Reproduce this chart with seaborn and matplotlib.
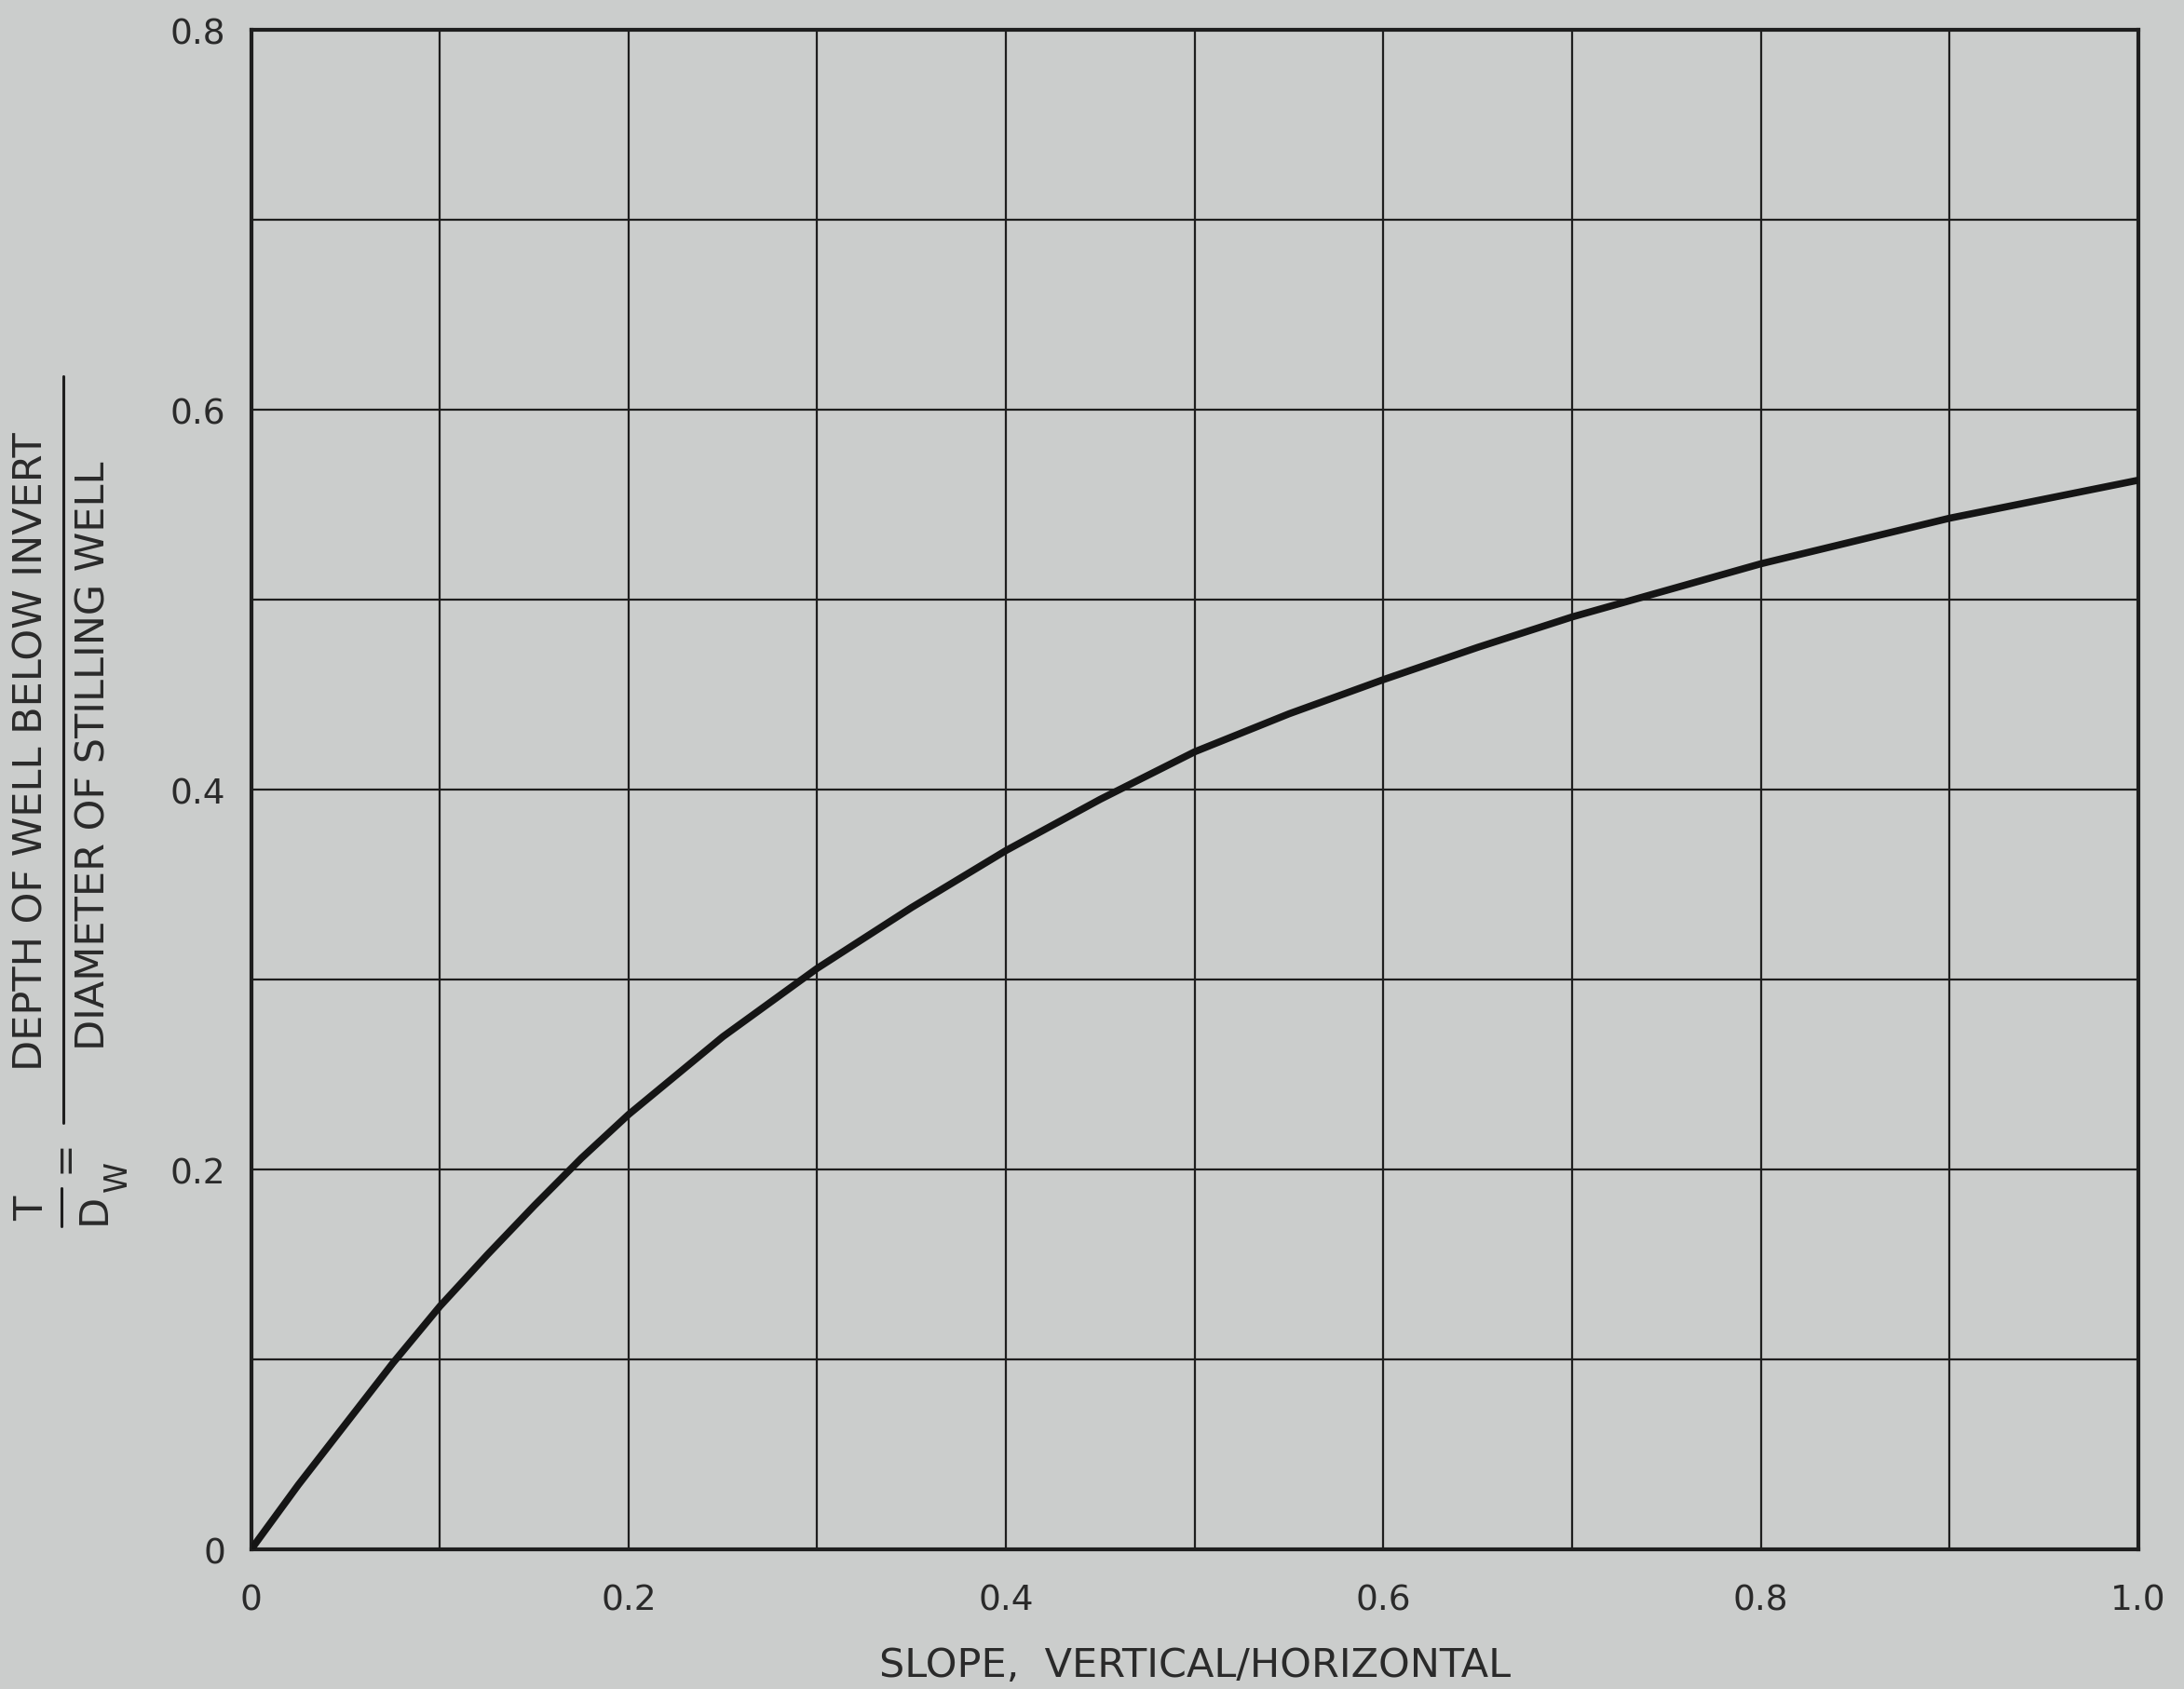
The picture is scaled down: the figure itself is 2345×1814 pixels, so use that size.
import numpy as np
import pandas as pd
import matplotlib
matplotlib.use("Agg")
import matplotlib.pyplot as plt
from matplotlib.lines import Line2D
import seaborn as sns

# values
slope = [0.0, 0.025, 0.05, 0.075, 0.1, 0.125, 0.15, 0.175, 0.2, 0.25,
         0.3, 0.35, 0.4, 0.45, 0.5, 0.55, 0.6, 0.65, 0.7, 0.75, 0.8,
         0.85, 0.9, 0.95, 1.0]
t_over_dw = [0.0, 0.034, 0.066, 0.098, 0.128, 0.155, 0.181, 0.206, 0.229,
             0.27, 0.306, 0.338, 0.368, 0.395, 0.42, 0.44, 0.458, 0.475,
             0.491, 0.505, 0.519, 0.531, 0.543, 0.553, 0.563]

x_ticks = [0, 0.2, 0.4, 0.6, 0.8, 1.0]
x_tick_labels = ["0", "0.2", "0.4", "0.6", "0.8", "1.0"]
y_ticks = [0, 0.2, 0.4, 0.6, 0.8]
y_tick_labels = ["0", "0.2", "0.4", "0.6", "0.8"]

df = pd.DataFrame({"slope": slope, "ratio": t_over_dw})

paper = "#cbcdcc"
ink = "#1e1e1e"
text_ink = "#2a2a2a"
W, H = 2345, 1815

sns.set_theme(style="white", rc={"axes.facecolor": paper,
                                 "figure.facecolor": paper})
plt.rcParams["font.family"] = ["DejaVu Sans"]

fig = plt.figure(figsize=(W / 100, H / 100), dpi=100)
ax = fig.add_axes([0.115, 0.0826, 0.864, 0.899])

sns.lineplot(data=df, x="slope", y="ratio", ax=ax, color="#151515",
             linewidth=5.5, zorder=5)

ax.set_xlim(0, 1.0)
ax.set_ylim(0, 0.8)

# grid every 0.1 (major + minor so the 0.2 lines show too)
ax.set_xticks(x_ticks)
ax.set_xticklabels(x_tick_labels)
ax.set_yticks(y_ticks)
ax.set_yticklabels(y_tick_labels)
ax.set_xticks([0.1, 0.3, 0.5, 0.7, 0.9], minor=True)
ax.set_yticks([0.1, 0.3, 0.5, 0.7], minor=True)
ax.grid(which="both", color=ink, linewidth=1.6)
ax.tick_params(which="both", length=0)
ax.tick_params(axis="x", pad=26, labelsize=27, colors=text_ink)
ax.tick_params(axis="y", pad=20, labelsize=27, colors=text_ink)

for s in ax.spines.values():
    s.set_visible(True)
    s.set_color(ink)
    s.set_linewidth(3)

ax.set_xlabel("SLOPE,  VERTICAL/HORIZONTAL", fontsize=31, color=text_ink,
              labelpad=22)
ax.set_ylabel("")


# y label drawn as a stacked fraction, positions in pixels from top-left
def ftext(px, py, s, size=31):
    fig.text(px / W, 1 - py / H, s, rotation=90, ha="center", va="center",
             color=text_ink, fontsize=size)


def fline(px, py0, py1, lw=2.2):
    fig.add_artist(Line2D([px / W, px / W], [1 - py0 / H, 1 - py1 / H],
                          transform=fig.transFigure, color=ink, lw=lw))


ftext(34, 807, "DEPTH OF WELL BELOW INVERT")
ftext(101, 812, "DIAMETER OF STILLING WELL")
fline(68, 405, 1207)
ftext(68, 1242, "=")
ftext(34, 1298, "T")
fline(66, 1277, 1318)
ftext(101, 1298, "D")
ftext(126, 1264, "W", size=24)

fig.savefig("out.png", dpi=100, facecolor=paper)
